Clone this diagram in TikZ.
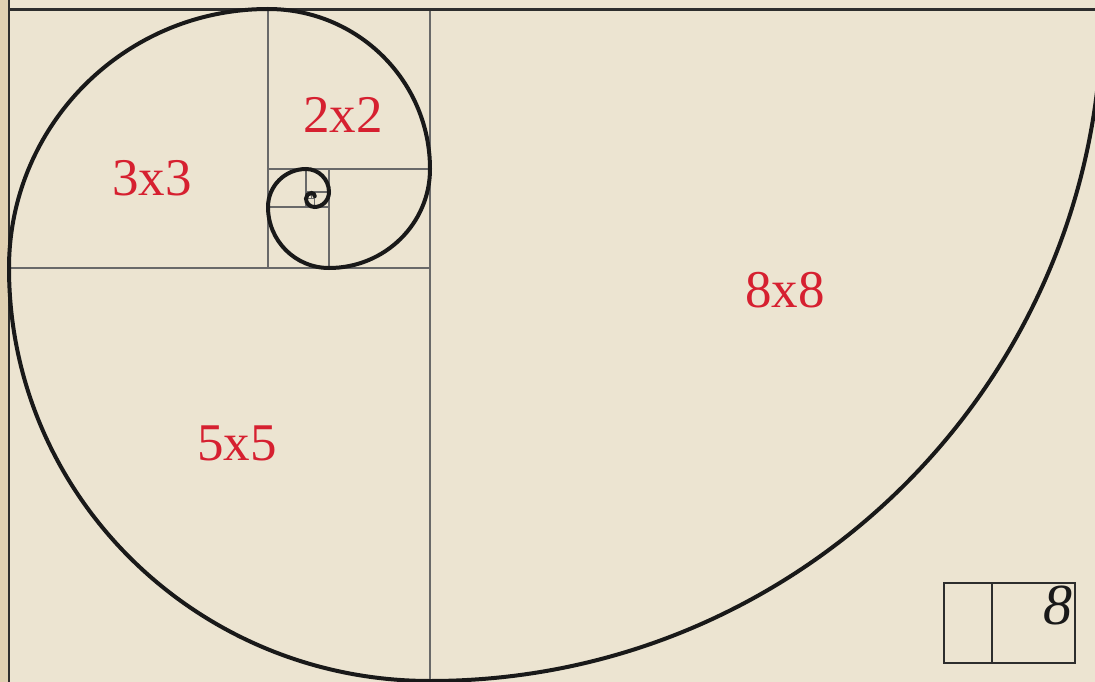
\documentclass[tikz,border=0pt]{standalone}
\usepackage{fontspec}
\setmainfont{Liberation Serif}
\definecolor{paper}{RGB}{236,228,209}
\definecolor{paperedge}{RGB}{224,208,178}
\definecolor{labelred}{RGB}{214,32,48}
\definecolor{gridgray}{RGB}{105,105,105}
\definecolor{framedark}{RGB}{45,45,45}
\definecolor{ink}{RGB}{25,25,25}
\tikzset{
  gridline/.style={draw=gridgray,line width=2.6pt},
  thingrid/.style={draw=gridgray,line width=1.6pt},
  frameline/.style={draw=framedark,line width=2.8pt},
  spiral/.style={draw=ink,line width=4pt},
  sqlabel/.style={text=labelred,font=\fontsize{53}{60}\selectfont,inner sep=0pt},
  legendbox/.style={draw=framedark,line width=1.3pt}
}
\begin{document}
\begin{tikzpicture}[x=1pt,y=-1pt]
\useasboundingbox (0,0) rectangle (1095,682);
\clip (0,0) rectangle (1095,682);
\fill[paper] (0,0) rectangle (1095,682);
\fill[paperedge] (0,0) rectangle (8,682);
% square divisions
\draw[gridline] (268,9) -- (268,268);
\draw[gridline] (430,9) -- (430,682);
\draw[gridline] (9,268) -- (430,268);
\draw[gridline] (268,169) -- (430,169);
\draw[gridline] (329,169) -- (329,268);
\draw[gridline] (268,207) -- (329,207);
\draw[gridline] (306,169) -- (306,207);
\draw[thingrid] (306,192) -- (329,192);
\draw[thingrid] (314.5,192) -- (314.5,207);
\draw[thingrid] (306,198.5) -- (314.5,198.5);
\draw[thingrid] (311.5,192) -- (311.5,198.5);
% frame
\draw[frameline] (8,9.5) -- (1095,9.5);
\draw[frameline] (9,0) -- (9,682);
% spiral
\draw[spiral,line cap=round] (1102,9)
  arc[start angle=0,end angle=90,radius=672]
  arc[start angle=90,end angle=180,x radius=421,y radius=413]
  arc[start angle=180,end angle=270,radius=259]
  arc[start angle=270,end angle=360,x radius=162,y radius=160]
  arc[start angle=0,end angle=90,x radius=101,y radius=99]
  arc[start angle=90,end angle=180,radius=61]
  arc[start angle=180,end angle=270,radius=38]
  arc[start angle=270,end angle=360,radius=23]
  arc[start angle=0,end angle=90,x radius=14.5,y radius=15]
  arc[start angle=90,end angle=180,radius=8.5]
  arc[start angle=180,end angle=270,radius=5.5]
  arc[start angle=270,end angle=360,radius=3.3];
% labels
\node[sqlabel] (l3) at (152,178) {3x3};
\node[sqlabel] (l2) at (343,115) {2x2};
\node[sqlabel] (l5) at (237,443) {5x5};
\node[sqlabel] (l8) at (785,290) {8x8};
% legend
\draw[legendbox] (944,583) rectangle (1075,663);
\draw[legendbox] (992,583) -- (992,663);
\node[anchor=north east,inner sep=0pt,text=ink,font=\itshape\fontsize{58}{60}\selectfont] (legend8) at (1073,586) {8};
\end{tikzpicture}
\end{document}
